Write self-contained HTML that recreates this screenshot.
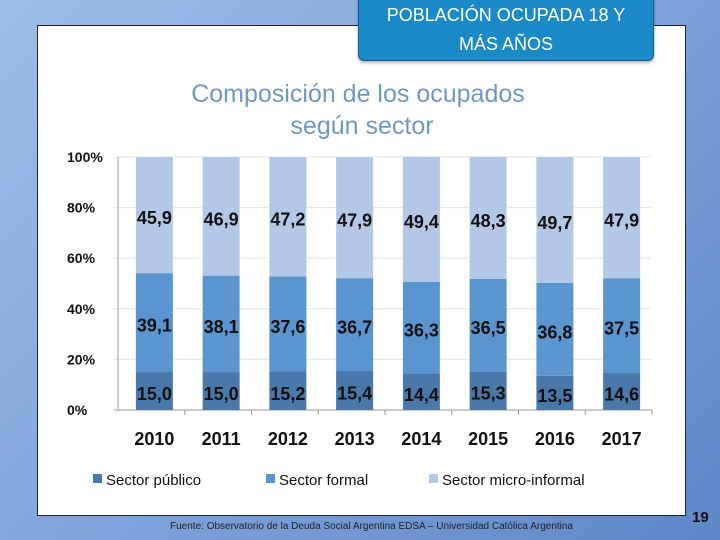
<!DOCTYPE html>
<html><head><meta charset="utf-8"><style>
body{margin:0;width:720px;height:540px;overflow:hidden;background:linear-gradient(135deg,#9fbde8 0%,#7fa3da 50%,#5f86c8 100%);font-family:"Liberation Sans",sans-serif;position:relative}
#panel{position:absolute;left:37px;top:25px;width:647px;height:489px;background:#fff;border:1px solid #223}
#tbox{position:absolute;left:358px;top:-4px;width:296px;height:65px;background:#1a8bc8;border:1px solid #0d5f8f;border-radius:0 0 6px 6px;color:#fff;font-size:18px;text-align:center;line-height:29px;padding-top:4px;box-sizing:border-box;box-shadow:0 2px 3px rgba(0,0,0,.3)}
#src{position:absolute;left:170px;top:521px;font-size:10px;color:#222}
#pg{position:absolute;left:692px;top:509px;font-size:15px;font-weight:bold;color:#111}
</style></head><body>
<div id="panel"></div>
<div id="tbox">POBLACIÓN OCUPADA 18 Y<br>MÁS AÑOS</div>
<svg id="chart" width="720" height="540" style="position:absolute;left:0;top:0">
<text x="358" y="102" text-anchor="middle" font-size="25" fill="#6f98c6">Composición de los ocupados</text>
<text x="362" y="134" text-anchor="middle" font-size="25" fill="#6f98c6">según sector</text>
<g id="g"></g>
</svg>
<div id="src">Fuente: Observatorio de la Deuda Social Argentina EDSA – Universidad Católica Argentina</div>
<div id="pg">19</div>
<script>
const years=["2010","2011","2012","2013","2014","2015","2016","2017"];
const publico=[15.0,15.0,15.2,15.4,14.4,15.3,13.5,14.6];
const formal=[39.1,38.1,37.6,36.7,36.3,36.5,36.8,37.5];
const micro=[45.9,46.9,47.2,47.9,49.4,48.3,49.7,47.9];
const ticks=[0,20,40,60,80,100];
const series=[publico,formal,micro];
const colors=["#4a78a8","#5b95d0","#b3c8e6"];
const names=["Sector público","Sector formal","Sector micro-informal"];
const NS="http://www.w3.org/2000/svg",g=document.getElementById('g');
const x0=118,x1=652,y0=410,y1=157;
const y=v=>y0-(v/100)*(y0-y1);
const bw=(x1-x0)/years.length;
const xc=i=>x0+bw*(i+0.5);
function mk(t,a,p){const e=document.createElementNS(NS,t);for(const k in a)e.setAttribute(k,a[k]);(p||g).appendChild(e);return e;}
ticks.forEach(t=>{
 const l=mk('line',{x1:x0-4,x2:x1,y1:y(t),y2:y(t),stroke:t==0?'#999':'#e4e4e4'});
 
 
 const tx=mk('text',{x:67,y:y(t)+5,'font-size':14,'font-weight':'bold',fill:'#111'});
 tx.textContent=t+'%';
 
 
});
mk('line',{x1:x0,x2:x0,y1:y1,y2:y0,stroke:'#999'});
years.forEach((yr,i)=>{
 let cum=0;
 series.forEach((s,k)=>{
  const v=s[i];
  const r=mk('rect',{x:xc(i)-15.5,y:y(cum+v),width:37,height:y(cum)-y(cum+v),fill:colors[k]});
  
  
  const t=mk('text',{x:xc(i)+3,y:y(cum+v/2)+9,'text-anchor':'middle','font-size':18,'font-weight':'bold',fill:'#111'});
  t.textContent=v.toFixed(1).replace('.',',');
  
  
  cum+=v;
 });
 const xt=mk('text',{x:xc(i)+3,y:445,'text-anchor':'middle','font-size':18,'font-weight':'bold',fill:'#111'});
 xt.textContent=yr;
 
 
 mk('line',{x1:x0+bw*(i+1),x2:x0+bw*(i+1),y1:y0,y2:y0+5,stroke:'#999'});
});
const lx=[93,266,429];
names.forEach((n,k)=>{
 const r=mk('rect',{x:lx[k],y:474,width:9,height:9,fill:colors[k]});
 
 
 const t=mk('text',{x:lx[k]+13,y:485,'font-size':15,fill:'#111'});
 t.textContent=n;
 
 
});
</script>
</body></html>
